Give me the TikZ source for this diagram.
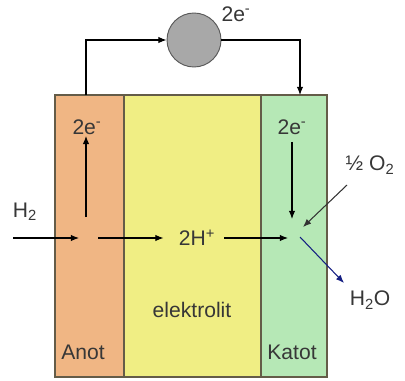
\documentclass[tikz,border=0pt]{standalone}
\usepackage{fontspec}
\setmainfont{Liberation Sans}
\usepackage{tikz}
\usetikzlibrary{calc,positioning,arrows.meta}
\definecolor{anotorange}{RGB}{240,182,132}
\definecolor{elyellow}{RGB}{240,238,132}
\definecolor{katotgreen}{RGB}{182,232,182}
\definecolor{framebrown}{RGB}{100,92,72}
\definecolor{lampgray}{RGB}{168,168,168}
\definecolor{textgray}{RGB}{55,55,55}
\definecolor{waterblue}{RGB}{20,30,130}

\begin{document}
\begin{tikzpicture}[x=0.03cm,y=0.03cm,
    every node/.style={font=\fontsize{18}{21}\selectfont,text=textgray,inner sep=1pt},
    layer/.style={draw=framebrown,line width=1.2pt,minimum height=282*0.03cm,inner sep=0pt},
    arr/.style={-{Latex[length=7pt,width=5.5pt]},line width=0.9pt,black}]
    \useasboundingbox (0,0) rectangle (405,380);

    % layers
    \node[layer,fill=anotorange,minimum width=69*0.03cm] (anot) at (89.5,144) {};
    \node[layer,fill=elyellow,minimum width=137*0.03cm] (elektrolit) at (192.5,144) {};
    \node[layer,fill=katotgreen,minimum width=66*0.03cm] (katot) at (294,144) {};

    \node (anotlbl) at (83,28) {Anot};
    \node (ellbl) at (192,70) {elektrolit};
    \node (katlbl) at (292,28) {Katot};

    % outer circuit
    \node[circle,draw=gray!70!black,fill=lampgray,line width=0.8pt,minimum size=54*0.03cm] (lamp) at (194,340) {};
    \node (eout) at (236,366) {2e\textsuperscript{-}};
    \coordinate (wa) at (86,285);
    \coordinate (wk) at (300,285);
    \draw[arr] (wa) |- (lamp.west);
    \draw[arr] (lamp.east) -| (wk);

    % anode side
    \node (ea) at (87,253) {2e\textsuperscript{-}};
    \coordinate (eastart) at (86,163);
    \draw[arr] (eastart) -- (ea.south -| eastart);
    \node (h2) at (25,168) {H\textsubscript{2}};
    \coordinate (h2in) at (13,142);
    \coordinate (pa) at (79,142);
    \coordinate (pa2) at (98,142);
    \draw[arr] (h2in) -- (pa);

    % protons
    \node (hplus) at (197,142) {2H\textsuperscript{+}};
    \coordinate (pk) at (288,142);
    \draw[arr] (pa2) -- ($(hplus.west)+(-14,0)$);
    \draw[arr] ($(hplus.east)+(8,0)$) -- (pk);

    % cathode side
    \node (ek) at (292,253) {2e\textsuperscript{-}};
    \coordinate (ekend) at (292,161);
    \draw[arr] (ek.south -| ekend) ++(0,-6) -- (ekend);
    \node (o2) at (370,215) {½ O\textsubscript{2}};
    \coordinate (o2start) at (347,195);
    \coordinate (o2end) at (303,153);
    \draw[arr,black!80] (o2start) -- (o2end);
    \node (h2o) at (370,80) {H\textsubscript{2}O};
    \coordinate (wstart) at (300,143);
    \coordinate (wend) at (344,97);
    \draw[arr,waterblue] (wstart) -- (wend);
\end{tikzpicture}
\end{document}
